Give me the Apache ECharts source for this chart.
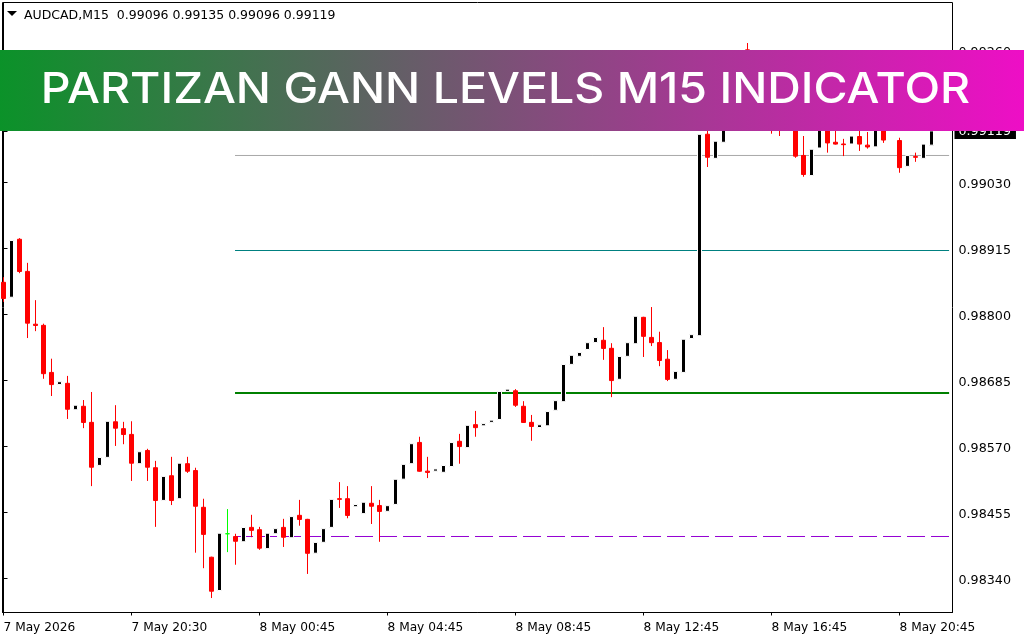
<!DOCTYPE html>
<html>
<head>
<meta charset="utf-8">
<title>AUDCAD M15</title>
<script src="https://cdn.jsdelivr.net/npm/echarts@6/dist/echarts.min.js"></script>
<style>
    html, body { margin: 0; padding: 0; background: #fff; }
    #chart { width: 1024px; height: 640px; }
</style>
</head>
<body>
<div id="chart"></div>
<script>
const opens = [
    0.98857,0.98831,0.98932,0.98876,0.98784,0.98782,0.98700,0.98679,0.98681,0.98635,
    0.98641,0.98613,0.98538,0.98552,0.98614,0.98602,0.98592,0.98541,0.98564,0.98534,
    0.98477,0.98520,0.98480,0.98541,0.98529,0.98465,0.98378,0.98320,0.98418,0.98414,
    0.98405,0.98430,0.98426,0.98393,0.98419,0.98430,0.98412,0.98451,0.98444,0.98385,
    0.98404,0.98430,0.98480,0.98480,0.98466,0.98454,0.98472,0.98468,0.98458,0.98470,
    0.98514,0.98541,0.98578,0.98528,0.98528,0.98526,0.98536,0.98580,0.98569,0.98609,
    0.98607,0.98613,0.98618,0.98667,0.98668,0.98641,0.98613,0.98604,0.98607,0.98634,
    0.98649,0.98714,0.98728,0.98740,0.98752,0.98756,0.98742,0.98688,0.98728,0.98750,
    0.98796,0.98761,0.98752,0.98723,0.98688,0.98700,0.98759,0.98764,0.99115,0.99073,
    0.99101,0.99125,0.99174,0.99262,0.99212,0.99188,0.99174,0.99160,0.99130,0.99156,
    0.99078,0.99043,0.99091,0.99143,0.99101,0.99098,0.99098,0.99111,0.99096,0.99093,
    0.99139,0.99130,0.99104,0.99059,0.99076,0.99073,0.99096,
];
const closes = [
    0.98827,0.98928,0.98874,0.98784,0.98780,0.98696,0.98677,0.98682,0.98634,0.98641,
    0.98611,0.98533,0.98550,0.98613,0.98601,0.98590,0.98540,0.98560,0.98533,0.98475,
    0.98517,0.98475,0.98540,0.98526,0.98465,0.98416,0.98317,0.98418,0.98418,0.98404,
    0.98428,0.98423,0.98392,0.98418,0.98426,0.98411,0.98447,0.98442,0.98383,0.98402,
    0.98426,0.98477,0.98477,0.98449,0.98468,0.98472,0.98465,0.98456,0.98466,0.98512,
    0.98538,0.98574,0.98526,0.98524,0.98530,0.98536,0.98576,0.98569,0.98606,0.98602,
    0.98609,0.98615,0.98665,0.98669,0.98641,0.98611,0.98604,0.98607,0.98630,0.98649,
    0.98712,0.98728,0.98733,0.98750,0.98759,0.98740,0.98684,0.98726,0.98750,0.98796,
    0.98761,0.98750,0.98719,0.98686,0.98700,0.98756,0.98764,0.99113,0.99073,0.99101,
    0.99122,0.99174,0.99235,0.99212,0.99182,0.99156,0.99136,0.99130,0.99160,0.99075,
    0.99043,0.99087,0.99136,0.99098,0.99096,0.99095,0.99110,0.99096,0.99091,0.99139,
    0.99103,0.99156,0.99055,0.99076,0.99073,0.99096,0.99119,
];
const lows = [
    0.98822,0.98831,0.98872,0.98759,0.98771,0.98688,0.98658,0.98679,0.98618,0.98635,
    0.98602,0.98501,0.98538,0.98552,0.98571,0.98574,0.98510,0.98541,0.98510,0.98430,
    0.98477,0.98468,0.98480,0.98524,0.98385,0.98358,0.98306,0.98320,0.98386,0.98364,
    0.98405,0.98412,0.98390,0.98393,0.98419,0.98395,0.98412,0.98432,0.98348,0.98385,
    0.98404,0.98430,0.98463,0.98445,0.98466,0.98454,0.98435,0.98404,0.98458,0.98470,
    0.98514,0.98541,0.98526,0.98515,0.98528,0.98526,0.98536,0.98540,0.98569,0.98587,
    0.98607,0.98613,0.98618,0.98667,0.98639,0.98611,0.98580,0.98604,0.98607,0.98634,
    0.98649,0.98714,0.98728,0.98740,0.98752,0.98721,0.98656,0.98688,0.98728,0.98750,
    0.98726,0.98745,0.98710,0.98684,0.98688,0.98700,0.98759,0.98764,0.99057,0.99073,
    0.99101,0.99125,0.99174,0.99200,0.99170,0.99140,0.99115,0.99111,0.99130,0.99073,
    0.99040,0.99043,0.99091,0.99082,0.99096,0.99076,0.99098,0.99085,0.99089,0.99093,
    0.99099,0.99130,0.99047,0.99059,0.99066,0.99073,0.99096,
];
const highs = [
    0.98865,0.98928,0.98933,0.98890,0.98825,0.98784,0.98723,0.98682,0.98693,0.98641,
    0.98651,0.98665,0.98550,0.98613,0.98642,0.98613,0.98614,0.98560,0.98566,0.98545,
    0.98517,0.98552,0.98540,0.98552,0.98533,0.98479,0.98378,0.98418,0.98461,0.98418,
    0.98428,0.98451,0.98430,0.98418,0.98426,0.98444,0.98447,0.98477,0.98444,0.98402,
    0.98426,0.98477,0.98508,0.98501,0.98468,0.98472,0.98501,0.98477,0.98466,0.98512,
    0.98538,0.98574,0.98587,0.98552,0.98530,0.98536,0.98576,0.98592,0.98606,0.98632,
    0.98609,0.98615,0.98665,0.98669,0.98670,0.98649,0.98625,0.98607,0.98630,0.98649,
    0.98712,0.98728,0.98733,0.98750,0.98759,0.98778,0.98750,0.98726,0.98750,0.98796,
    0.98796,0.98813,0.98770,0.98738,0.98700,0.98756,0.98764,0.99113,0.99125,0.99101,
    0.99122,0.99174,0.99235,0.99273,0.99225,0.99200,0.99182,0.99174,0.99160,0.99165,
    0.99111,0.99087,0.99136,0.99153,0.99130,0.99106,0.99110,0.99139,0.99118,0.99139,
    0.99150,0.99156,0.99108,0.99076,0.99082,0.99096,0.99135,
];

const timeTicks = [0, 16, 32, 48, 64, 80, 96, 112];
const timeLabels = ["7 May 2026", "7 May 20:30", "8 May 00:45", "8 May 04:45", "8 May 08:45", "8 May 12:45", "8 May 16:45", "8 May 20:45"];
const priceTicks = [0.9834, 0.98455, 0.9857, 0.98685, 0.988, 0.98915, 0.9903, 0.99145, 0.9926];
const lastPrice = 0.99119;

// Gann levels, drawn from bar 29 to the right edge
const levelRange = [28.94, 118.2];
const grayLevel = 0.9907703;
const tealLevel = 0.9891151;
const greenLevel = 0.9866323;
const purpleLevel = 0.9841322;

const headerText = "AUDCAD,M15  0.99096 0.99135 0.99096 0.99119";
const bannerText = "PARTIZAN GANN LEVELS M15 INDICATOR";

const axisFont = "DejaVu Sans";

// half a pixel in price, the 1px candle border sits half outside the body
const borderPad = 0.000009;

const levelSeries = (price, color, width, type) => ({
    type: "line",
    z: 1,
    silent: true,
    showSymbol: false,
    lineStyle: { color: color, width: width, type: type },
    data: levelRange.map((bar) => [bar, price]),
});

const candleData = opens.map((open, i) => {
    const close = closes[i];
    if (open === close) {
        // doji is lime in the MT4 colour scheme
        return {
            value: [i, open, close, lows[i], highs[i]],
            itemStyle: { borderColor: "#0f0", borderColor0: "#0f0", borderColorDoji: "#0f0" },
        };
    }
    const o = open - borderPad;
    const c = close + borderPad;
    return [i, o, c, Math.min(lows[i], o, c), Math.max(highs[i], o, c)];
});

const chart = echarts.init(document.getElementById("chart"));

chart.setOption({
    animation: false,
    backgroundColor: "#fff",
    title: {
        text: headerText,
        left: 19,
        top: 4,
        textStyle: { fontFamily: axisFont, fontSize: 12.5, fontWeight: "normal", color: "#000" },
    },
    grid: {
        left: 2.5,
        top: 2.5,
        width: 950,
        height: 610,
        show: true,
        borderColor: "#000",
        borderWidth: 1,
    },
    xAxis: {
        type: "value",
        min: -0.125,
        max: 118.625,
        splitLine: { show: false },
        axisLine: { lineStyle: { color: "#000" } },
        axisTick: { length: 3, lineStyle: { color: "#000" }, customValues: timeTicks },
        axisLabel: {
            customValues: timeTicks,
            color: "#000",
            fontFamily: axisFont,
            fontSize: 12.2,
            align: "left",
            margin: 9,
            formatter: (v) => timeLabels[timeTicks.indexOf(v)],
        },
    },
    yAxis: {
        type: "value",
        position: "right",
        min: 0.982808,
        max: 0.993436,
        splitLine: { show: false },
        axisLine: { show: true, lineStyle: { color: "#000" } },
        axisTick: { show: true, length: 4, lineStyle: { color: "#000" }, customValues: priceTicks.concat(lastPrice) },
        axisLabel: {
            customValues: priceTicks.concat(lastPrice),
            margin: 2,
            formatter: (v) => (v === lastPrice ? "{tag|" + v.toFixed(5) + "}" : "{num|" + v.toFixed(5) + "}"),
            rich: {
                num: { color: "#000", fontFamily: axisFont, fontSize: 12.7, padding: [5, 0, 0, 4] },
                tag: { color: "#fff", backgroundColor: "#000", fontFamily: axisFont, fontSize: 12.7, padding: [1, 5, 1, 4] },
            },
        },
    },
    series: [
        levelSeries(grayLevel, "#a9a9a9", 1, "solid"),
        levelSeries(tealLevel, "#008080", 1, "solid"),
        levelSeries(greenLevel, "#008000", 2, "solid"),
        levelSeries(purpleLevel, "#9400d3", 1, [18, 6]),
        {
            type: "candlestick",
            z: 2,
            barWidth: 5,
            encode: { x: 0, y: [1, 2, 3, 4] },
            itemStyle: {
                color: "#000",
                color0: "#f00",
                borderColor: "#fff",
                borderColor0: "#f00",
                borderColorDoji: "#0f0",
                borderWidth: 1,
            },
            data: candleData,
        },
    ],
    graphic: [
        {
            type: "polygon",
            z: 10,
            shape: { points: [[7, 11], [17, 11], [12, 16]] },
            style: { fill: "#000" },
        },
        {
            type: "rect",
            z: 20,
            shape: { x: 0, y: 50, width: 1024, height: 81 },
            style: {
                fill: new echarts.graphic.LinearGradient(0, 0, 1, 0, [
                    { offset: 0, color: "#0b9229" },
                    { offset: 1, color: "#ee0ec6" },
                ]),
            },
        },
        {
            type: "text",
            z: 21,
            x: 505.5,
            y: 90,
            scaleX: 1.081,
            style: {
                text: bannerText,
                x: 0,
                y: 0,
                fill: "#fff",
                font: "500 43px Inter",
                textAlign: "center",
                textVerticalAlign: "middle",
            },
        },
    ],
});
</script>
</body>
</html>
